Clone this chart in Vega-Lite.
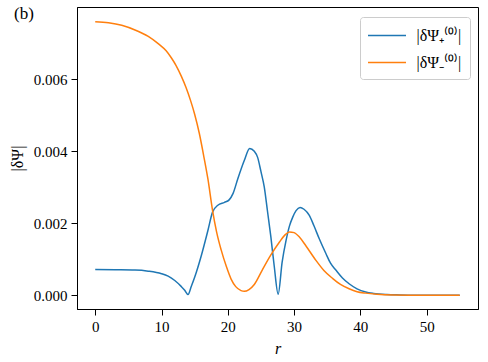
{
  "$schema": "https://vega.github.io/schema/vega-lite/v6.json",
  "width": 401,
  "height": 302,
  "autosize": {"type": "none"},
  "padding": {"left": 77, "top": 7, "right": 10, "bottom": 53},
  "background": "white",
  "title": {"text": "(b)", "anchor": "start", "frame": "group", "dx": -63, "offset": -16, "baseline": "top", "font": "Liberation Serif", "fontSize": 17, "fontWeight": "normal", "color": "black"},
  "config": {
    "font": "Liberation Serif",
    "view": {"stroke": "black", "strokeWidth": 1},
    "style": {"guide-label": {"font": "Liberation Serif"}, "guide-title": {"font": "Liberation Serif"}},
    "axis": {"labelFont": "Liberation Serif", "titleFont": "Liberation Serif", "labelFontSize": 15, "titleFontSize": 16, "labelColor": "black", "titleColor": "black", "domainColor": "black", "tickColor": "black", "tickSize": 6, "grid": false, "titleFontWeight": "normal"}
  },
  "data": {"values": [
    {"r": 0, "v": 0.000714, "s": "plus"},
    {"r": 3, "v": 0.000708, "s": "plus"},
    {"r": 6, "v": 0.0007, "s": "plus"},
    {"r": 8, "v": 0.00067, "s": "plus"},
    {"r": 10, "v": 0.0006, "s": "plus"},
    {"r": 11, "v": 0.00053, "s": "plus"},
    {"r": 12, "v": 0.00041, "s": "plus"},
    {"r": 13, "v": 0.00024, "s": "plus"},
    {"r": 13.5, "v": 0.00014, "s": "plus"},
    {"r": 14, "v": 0.00002, "s": "plus"},
    {"r": 14.5, "v": 0.00025, "s": "plus"},
    {"r": 15, "v": 0.0005, "s": "plus"},
    {"r": 16, "v": 0.0011, "s": "plus"},
    {"r": 17, "v": 0.0018, "s": "plus"},
    {"r": 17.7, "v": 0.00231, "s": "plus"},
    {"r": 18.5, "v": 0.0025, "s": "plus"},
    {"r": 19.5, "v": 0.00258, "s": "plus"},
    {"r": 20.2, "v": 0.00265, "s": "plus"},
    {"r": 20.8, "v": 0.00283, "s": "plus"},
    {"r": 21.5, "v": 0.00323, "s": "plus"},
    {"r": 22.5, "v": 0.00375, "s": "plus"},
    {"r": 23.3, "v": 0.00408, "s": "plus"},
    {"r": 24, "v": 0.004, "s": "plus"},
    {"r": 24.5, "v": 0.00383, "s": "plus"},
    {"r": 25, "v": 0.00344, "s": "plus"},
    {"r": 25.5, "v": 0.00301, "s": "plus"},
    {"r": 26, "v": 0.00232, "s": "plus"},
    {"r": 26.5, "v": 0.00162, "s": "plus"},
    {"r": 27, "v": 0.00082, "s": "plus"},
    {"r": 27.6, "v": 0.00003, "s": "plus"},
    {"r": 28.2, "v": 0.00092, "s": "plus"},
    {"r": 28.8, "v": 0.00153, "s": "plus"},
    {"r": 29.3, "v": 0.00192, "s": "plus"},
    {"r": 29.8, "v": 0.00217, "s": "plus"},
    {"r": 30.3, "v": 0.00235, "s": "plus"},
    {"r": 30.9, "v": 0.00244, "s": "plus"},
    {"r": 31.5, "v": 0.00239, "s": "plus"},
    {"r": 32.3, "v": 0.00222, "s": "plus"},
    {"r": 33, "v": 0.00193, "s": "plus"},
    {"r": 33.8, "v": 0.00157, "s": "plus"},
    {"r": 34.8, "v": 0.00116, "s": "plus"},
    {"r": 35.5, "v": 0.00089, "s": "plus"},
    {"r": 36.3, "v": 0.0007, "s": "plus"},
    {"r": 37.3, "v": 0.00048, "s": "plus"},
    {"r": 38.3, "v": 0.00032, "s": "plus"},
    {"r": 39.5, "v": 0.00018, "s": "plus"},
    {"r": 40.8, "v": 0.00009, "s": "plus"},
    {"r": 42, "v": 0.00005, "s": "plus"},
    {"r": 44, "v": 0.00002, "s": "plus"},
    {"r": 46, "v": 0.00001, "s": "plus"},
    {"r": 50, "v": 0, "s": "plus"},
    {"r": 55, "v": 0, "s": "plus"},
    {"r": 0, "v": 0.0076, "s": "minus"},
    {"r": 2, "v": 0.00757, "s": "minus"},
    {"r": 4, "v": 0.0075, "s": "minus"},
    {"r": 6, "v": 0.00737, "s": "minus"},
    {"r": 8, "v": 0.00719, "s": "minus"},
    {"r": 9.5, "v": 0.00699, "s": "minus"},
    {"r": 10.7, "v": 0.00679, "s": "minus"},
    {"r": 11.5, "v": 0.00659, "s": "minus"},
    {"r": 12.2, "v": 0.00638, "s": "minus"},
    {"r": 13, "v": 0.00608, "s": "minus"},
    {"r": 13.7, "v": 0.00577, "s": "minus"},
    {"r": 14.4, "v": 0.0054, "s": "minus"},
    {"r": 15, "v": 0.00503, "s": "minus"},
    {"r": 15.7, "v": 0.0045, "s": "minus"},
    {"r": 16.4, "v": 0.00384, "s": "minus"},
    {"r": 17, "v": 0.00323, "s": "minus"},
    {"r": 17.7, "v": 0.00236, "s": "minus"},
    {"r": 18.3, "v": 0.00177, "s": "minus"},
    {"r": 19, "v": 0.00126, "s": "minus"},
    {"r": 19.8, "v": 0.00079, "s": "minus"},
    {"r": 20.5, "v": 0.00045, "s": "minus"},
    {"r": 21.2, "v": 0.00024, "s": "minus"},
    {"r": 22, "v": 0.00013, "s": "minus"},
    {"r": 22.5, "v": 0.00011, "s": "minus"},
    {"r": 23.2, "v": 0.00016, "s": "minus"},
    {"r": 24, "v": 0.0003, "s": "minus"},
    {"r": 25.2, "v": 0.0007, "s": "minus"},
    {"r": 26.5, "v": 0.00112, "s": "minus"},
    {"r": 27.8, "v": 0.00148, "s": "minus"},
    {"r": 28.6, "v": 0.00167, "s": "minus"},
    {"r": 29.3, "v": 0.00176, "s": "minus"},
    {"r": 30, "v": 0.00174, "s": "minus"},
    {"r": 30.8, "v": 0.00162, "s": "minus"},
    {"r": 31.8, "v": 0.00137, "s": "minus"},
    {"r": 33.3, "v": 0.00097, "s": "minus"},
    {"r": 34.5, "v": 0.00069, "s": "minus"},
    {"r": 35.8, "v": 0.00047, "s": "minus"},
    {"r": 37, "v": 0.0003, "s": "minus"},
    {"r": 38.3, "v": 0.00018, "s": "minus"},
    {"r": 39.5, "v": 0.0001, "s": "minus"},
    {"r": 40.8, "v": 0.00006, "s": "minus"},
    {"r": 42.5, "v": 0.00003, "s": "minus"},
    {"r": 45, "v": 0.00001, "s": "minus"},
    {"r": 50, "v": 0, "s": "minus"},
    {"r": 55, "v": 0, "s": "minus"}
  ]},
  "mark": {"type": "line", "strokeWidth": 1.5, "interpolate": "monotone", "clip": true},
  "encoding": {
    "x": {"field": "r", "type": "quantitative", "scale": {"domain": [-2.75, 57.75], "nice": false, "zero": false},
      "axis": {"values": [0, 10, 20, 30, 40, 50], "title": "r", "titleFontStyle": "italic", "titlePadding": 6, "labelPadding": 4, "labelFont": "Liberation Serif", "titleFont": "Liberation Serif"}},
    "y": {"field": "v", "type": "quantitative", "scale": {"domain": [-0.000381, 0.008007], "nice": false, "zero": false},
      "axis": {"values": [0, 0.002, 0.004, 0.006], "format": ".3f", "title": "|δΨ|", "titlePadding": 8, "labelPadding": 4, "labelFont": "Liberation Serif", "titleFont": "Liberation Serif"}},
    "color": {"field": "s", "type": "nominal",
      "scale": {"domain": ["plus", "minus"], "range": ["#1f77b4", "#ff7f0e"]},
      "legend": {"title": null, "orient": "none", "legendX": 283, "legendY": 10,
        "labelExpr": "datum.value == 'plus' ? '|δΨ₊⁽⁰⁾|' : '|δΨ₋⁽⁰⁾|'",
        "symbolType": "M-2,0H2", "symbolSize": 361, "symbolStrokeWidth": 1.5, "symbolOffset": 8.5,
        "symbolFillColor": "transparent",
        "labelFont": "Liberation Serif", "labelFontSize": 16, "labelColor": "black",
        "rowPadding": 8, "labelOffset": 19,
        "strokeColor": "#cccccc", "fillColor": "white", "cornerRadius": 3, "padding": 8}}
  }
}
